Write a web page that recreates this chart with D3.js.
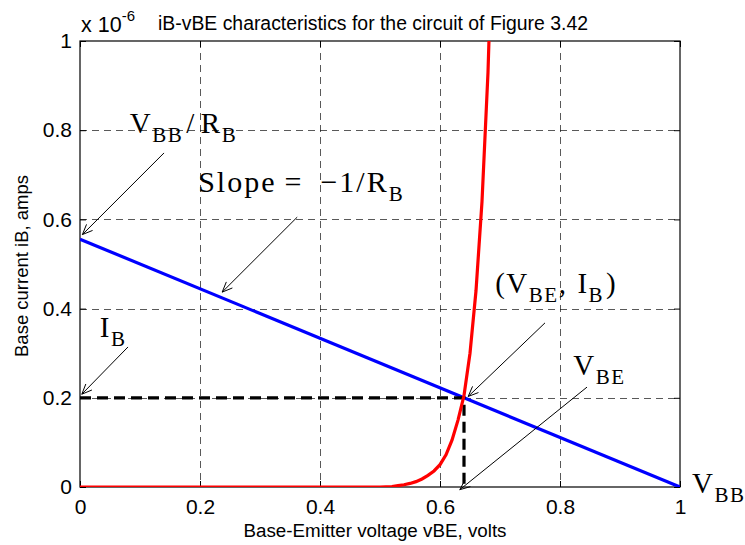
<!DOCTYPE html>
<html><head><meta charset="utf-8">
<script src="https://cdn.jsdelivr.net/npm/d3@7"></script>
<style>body{margin:0;background:#fff}</style>
</head><body>
<svg id="chart" width="745" height="545"></svg>
<script>
// ---- data ----
const xTicks = [0, 0.2, 0.4, 0.6, 0.8, 1];
const yTicks = [0, 0.2, 0.4, 0.6, 0.8, 1];
const xTickLabels = ["0", "0.2", "0.4", "0.6", "0.8", "1"];
const yTickLabels = ["0", "0.2", "0.4", "0.6", "0.8", "1"];
// diode iB-vBE curve (iB in units of 1e-6 A)
const diodeV = [0, 0.10, 0.20, 0.30, 0.40, 0.50, 0.52, 0.53, 0.54, 0.55, 0.56, 0.57, 0.58, 0.59, 0.60, 0.61, 0.62, 0.63, 0.64, 0.65, 0.66, 0.67, 0.68, 0.69];
const diodeI = [0, 0, 0, 0, 0, 0, 0.001, 0.003, 0.005, 0.008, 0.012, 0.018, 0.026, 0.036, 0.050, 0.072, 0.105, 0.150, 0.205, 0.300, 0.440, 0.640, 0.930, 1.370];
// load line
const loadV = [0, 1];
const loadI = [0.5556, 0];
// operating point
const qV = 0.64, qI = 0.2;
const titleText = "iB-vBE characteristics for the circuit of Figure 3.42";
const xLabel = "Base-Emitter voltage vBE, volts";
const yLabel = "Base current iB, amps";
// annotations: text anchor and arrow tail/head, in data units
const annotations = [
  {parts: [["V","m"],["BB","s"],["/","m",3],["R","m",5],["B","s"]], ls: 1.5, fs: 29, at: [0.083, 0.794], from: [0.140, 0.749], to: [0.004, 0.566]},
  {parts: [["Slope","m"],["=","m",8],["\u22121/R","m",17],["B","s"]], ls: 2, fs: 30, at: [0.197, 0.661], from: [0.362, 0.605], to: [0.237, 0.437]},
  {parts: [["I","m"],["B","s"]], ls: 1.5, fs: 29, at: [0.033, 0.336], from: [0.080, 0.314], to: [0.003, 0.208]},
  {parts: [["(V","m"],["BE","s"],[",","m"],["I","m",10],["B","s"],[")","m",2]], ls: 1.5, fs: 29, at: [0.692, 0.435], from: [0.775, 0.368], to: [0.647, 0.203]},
  {parts: [["V","m"],["BE","s"]], ls: 1.5, fs: 29, at: [0.822, 0.251], from: [0.845, 0.224], to: [0.633, -0.006]},
  {parts: [["V","m"],["BB","s"]], ls: 1.5, fs: 29, at: [1.020, -0.013], from: null, to: null}
];

// ---- layout ----
const svg = d3.select("#chart");
const L = 80, R = 680, T = 41, B = 487;
const x = d3.scaleLinear().domain([0, 1]).range([L, R]);
const y = d3.scaleLinear().domain([0, 1]).range([B, T]);

svg.append("rect").attr("width", 745).attr("height", 545).attr("fill", "#fff");

svg.append("defs").append("clipPath").attr("id", "clip")
  .append("rect").attr("x", L).attr("y", T).attr("width", R - L).attr("height", B - T);

// grid
const grid = svg.append("g").attr("stroke", "#111").attr("stroke-width", 0.7).attr("stroke-dasharray", "7,5");
grid.selectAll(".gx").data(xTicks.filter(d => d > 0 && d < 1)).enter().append("line")
  .attr("x1", d => Math.round(x(d)) + 0.5).attr("x2", d => Math.round(x(d)) + 0.5)
  .attr("y1", y(1)).attr("y2", y(0));
grid.selectAll(".gy").data(yTicks.filter(d => d > 0 && d < 1)).enter().append("line")
  .attr("y1", d => Math.round(y(d)) + 0.5).attr("y2", d => Math.round(y(d)) + 0.5)
  .attr("x1", x(0)).attr("x2", x(1));

// axes
const fontSans = "'Liberation Sans', Arial, sans-serif";
const xAxis = svg.append("g").attr("transform", `translate(0,${B})`)
  .call(d3.axisBottom(x).tickValues(xTicks).tickFormat((d, i) => xTickLabels[i]).tickSizeInner(-6).tickSizeOuter(0).tickPadding(12));
const yAxis = svg.append("g").attr("transform", `translate(${L},0)`)
  .call(d3.axisLeft(y).tickValues(yTicks).tickFormat((d, i) => yTickLabels[i]).tickSizeInner(-6).tickSizeOuter(0).tickPadding(8));
const xTop = svg.append("g").attr("transform", `translate(0,${T})`)
  .call(d3.axisTop(x).tickValues(xTicks).tickFormat("").tickSizeInner(-6).tickSizeOuter(0));
const yRight = svg.append("g").attr("transform", `translate(${R},0)`)
  .call(d3.axisRight(y).tickValues(yTicks).tickFormat("").tickSizeInner(-6).tickSizeOuter(0));
[xAxis, yAxis, xTop, yRight].forEach(g => {
  g.select(".domain").remove();
  g.selectAll("line").attr("stroke", "#000");
  g.selectAll("text").attr("font-family", fontSans).attr("font-size", 21).attr("fill", "#000");
});
svg.append("rect").attr("x", L).attr("y", T).attr("width", R - L).attr("height", B - T)
  .attr("fill", "none").attr("stroke", "#000").attr("stroke-width", 1.2);

// lines
const line = d3.line().x(d => x(d[0])).y(d => y(d[1]));
svg.append("path").datum(loadV.map((v, i) => [v, loadI[i]]))
  .attr("d", line).attr("fill", "none").attr("stroke", "#0000ff").attr("stroke-width", 3.2).attr("clip-path", "url(#clip)");
svg.append("path").datum([[0, qI], [qV, qI], [qV, 0]])
  .attr("d", line).attr("fill", "none").attr("stroke", "#000").attr("stroke-width", 3.2).attr("stroke-dasharray", "11,6");
svg.append("path").datum(diodeV.map((v, i) => [v, diodeI[i]]))
  .attr("d", line).attr("fill", "none").attr("stroke", "#ff0000").attr("stroke-width", 3.2).attr("clip-path", "url(#clip)");

// title & labels
const t = svg.append("text").attr("font-family", fontSans).attr("font-size", 21.5).attr("x", 81).attr("y", 32);
t.append("tspan").text("x 10");
t.append("tspan").attr("font-size", 15).attr("dy", -11).text("-6");
svg.append("text").attr("font-family", fontSans).attr("font-size", 19.4).attr("x", 158).attr("y", 30).text(titleText);
svg.append("text").attr("font-family", fontSans).attr("font-size", 18.8).attr("x", 375).attr("y", 537)
  .attr("text-anchor", "middle").text(xLabel);
svg.append("text").attr("font-family", fontSans).attr("font-size", 18.5)
  .attr("transform", `translate(28,${(T + B) / 2 + 2}) rotate(-90)`).attr("text-anchor", "middle").text(yLabel);

// annotations
const fontSerif = "'Liberation Serif', 'Times New Roman', serif";
const ann = svg.append("g");
annotations.forEach(a => {
  const tx = ann.append("text").attr("font-family", fontSerif).attr("font-size", a.fs)
    .attr("letter-spacing", a.ls).attr("x", x(a.at[0])).attr("y", y(a.at[1]));
  let sub = false;
  a.parts.forEach(p => {
    const ts = tx.append("tspan").text(p[0]);
    const isSub = p[1] === "s";
    let dy = 0;
    if (isSub && !sub) dy = 9;
    if (!isSub && sub) dy = -9;
    if (dy) ts.attr("dy", dy);
    if (p[2]) ts.attr("dx", p[2]);
    if (isSub) ts.attr("font-size", 21);
    sub = isSub;
  });
  if (a.from) {
    const x1 = x(a.from[0]), y1 = y(a.from[1]), x2 = x(a.to[0]), y2 = y(a.to[1]);
    ann.append("line").attr("x1", x1).attr("y1", y1).attr("x2", x2).attr("y2", y2)
      .attr("stroke", "#000").attr("stroke-width", 1);
    const ang = Math.atan2(y1 - y2, x1 - x2), len = 11, spread = 0.4;
    [ang - spread, ang + spread].forEach(aa => {
      ann.append("line").attr("x1", x2).attr("y1", y2)
        .attr("x2", x2 + len * Math.cos(aa)).attr("y2", y2 + len * Math.sin(aa))
        .attr("stroke", "#000").attr("stroke-width", 1);
    });
  }
});
</script>
</body></html>
